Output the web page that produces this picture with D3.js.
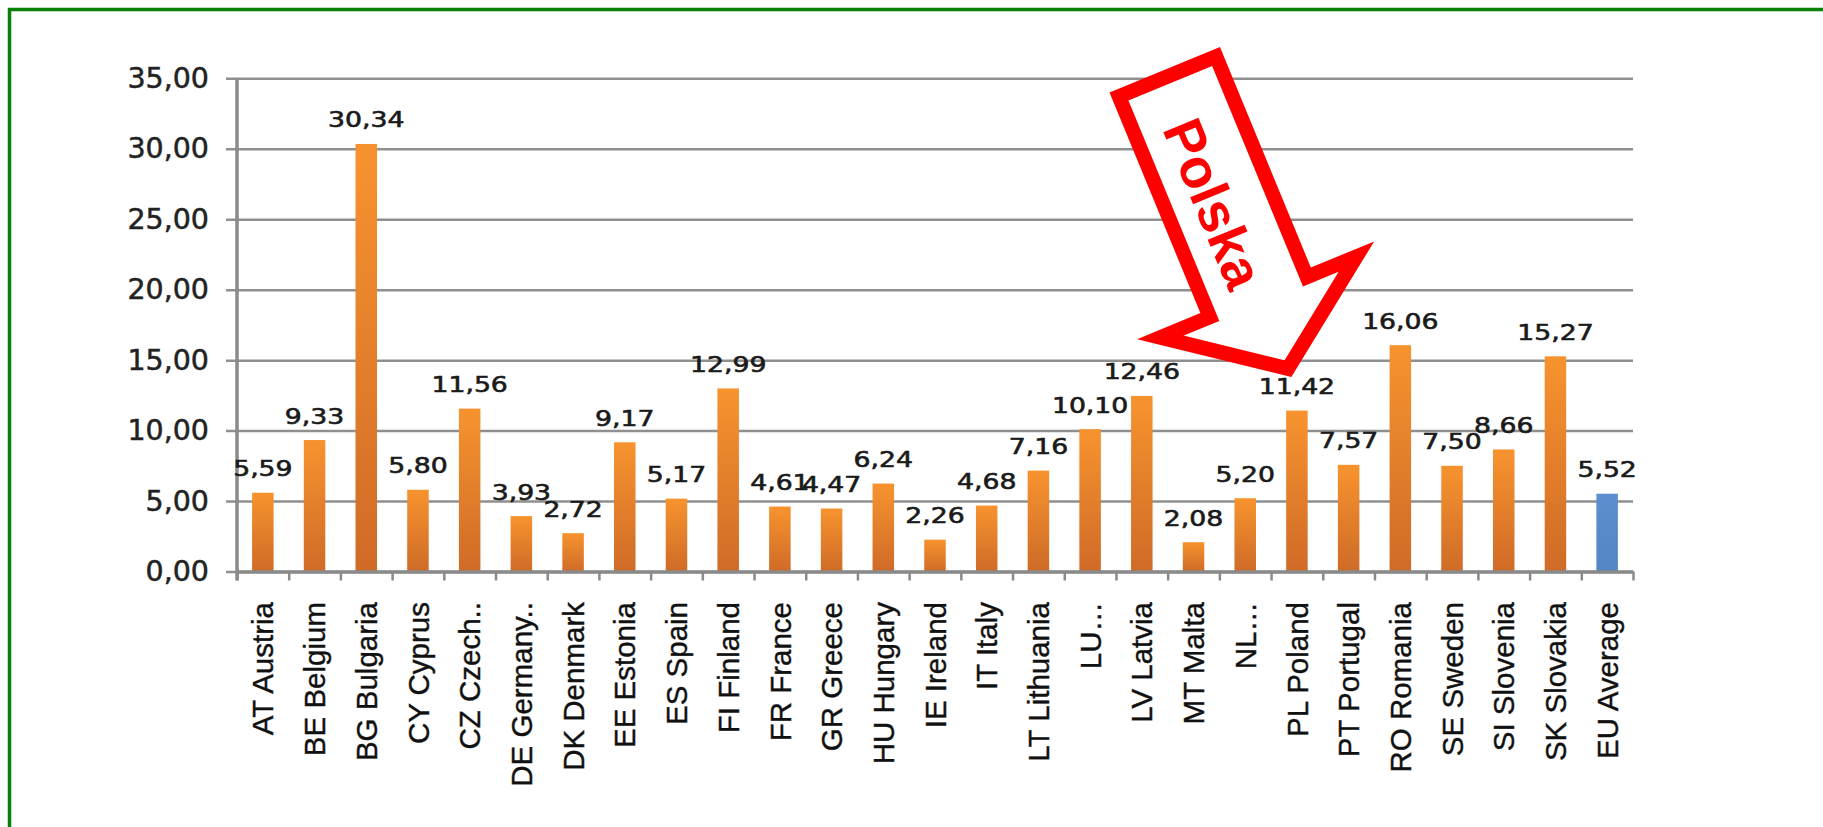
<!DOCTYPE html>
<html>
<head>
<meta charset="utf-8">
<script src="https://cdn.jsdelivr.net/npm/d3@7"></script>
<style>
  body { margin: 0; background: #fff; }
  svg { display: block; }
</style>
</head>
<body>
<script>
// countries and their values
var countries = ["AT Austria", "BE Belgium", "BG Bulgaria", "CY Cyprus", "CZ Czech..",
  "DE Germany..", "DK Denmark", "EE Estonia", "ES Spain", "FI Finland", "FR France",
  "GR Greece", "HU Hungary", "IE Ireland", "IT Italy", "LT Lithuania", "LU…",
  "LV Latvia", "MT Malta", "NL…", "PL Poland", "PT Portugal", "RO Romania",
  "SE Sweden", "SI Slovenia", "SK Slovakia", "EU Average"];
var values = [5.59, 9.33, 30.34, 5.80, 11.56, 3.93, 2.72, 9.17, 5.17, 12.99, 4.61,
  4.47, 6.24, 2.26, 4.68, 7.16, 10.10, 12.46, 2.08, 5.20, 11.42, 7.57, 16.06,
  7.50, 8.66, 15.27, 5.52];
var yTicks = [0, 5, 10, 15, 20, 25, 30, 35];
var highlight = "EU Average";   // the blue one
var arrowLabel = "Polska";

var W = 1823, H = 827;
// careful: "top" is taken by window.top, so plot* names
var plotLeft = 237, plotRight = 1633, plotTop = 78.3, plotBottom = 571.5;

var svg = d3.select("body").append("svg")
  .attr("width", W).attr("height", H);

var defs = svg.append("defs");
function grad(id, c1, c2) { // vertical gradient, light at the top
  var g = defs.append("linearGradient").attr("id", id)
    .attr("x1", 0).attr("y1", 0).attr("x2", 0).attr("y2", 1);
  g.append("stop").attr("offset", "0%").attr("stop-color", c1);
  g.append("stop").attr("offset", "100%").attr("stop-color", c2);
}
grad("orange", "#f7932e", "#cf6b27");
grad("blue", "#5c8fcf", "#5485c4");

// green frame, only top and left are in the picture
svg.append("path")
  .attr("d", "M9.5," + H + "V9.5H" + W)
  .attr("fill", "none").attr("stroke", "#0a7f0a").attr("stroke-width", 3.5);

var comma = d3.formatLocale({decimal: ",", thousands: ".", grouping: [3], currency: ["", ""]});
var fmt = comma.format(".2f");

var x = d3.scaleBand().domain(countries).range([plotLeft, plotRight])
  .paddingInner(0.584).paddingOuter(0.292);
var y = d3.scaleLinear().domain([0, 35]).range([plotBottom, plotTop]);
var edges = d3.scaleLinear().domain([0, countries.length]).range([plotLeft, plotRight]);

// gridlines + y tick labels
var yAxis = svg.append("g").attr("transform", "translate(226,0)")
  .call(d3.axisLeft(y).tickValues(yTicks).tickFormat(fmt)
    .tickSizeInner(-(plotRight - 226)).tickSizeOuter(0).tickPadding(17));
yAxis.select(".domain").remove();
yAxis.selectAll(".tick line").attr("stroke", "#8f8f8f").attr("stroke-width", 2.5);
yAxis.selectAll(".tick text")
  .attr("font-family", "'DejaVu Sans', Verdana, sans-serif")
  .attr("font-size", 28.5).attr("fill", "#222")
  .attr("stroke", "#222").attr("stroke-width", 0.5);

// bars
svg.append("g").selectAll("rect")
  .data(values)
  .join("rect")
  .attr("x", function (d, i) { return x(countries[i]); })
  .attr("y", function (d) { return y(d); })
  .attr("width", x.bandwidth())
  .attr("height", function (d) { return y(0) - y(d); })
  .attr("fill", function (d, i) { return countries[i] === highlight ? "url(#blue)" : "url(#orange)"; });

// x axis with ticks between the categories
var xAxis = svg.append("g").attr("transform", "translate(0," + plotBottom + ")")
  .call(d3.axisBottom(edges).tickValues(d3.range(countries.length + 1))
    .tickFormat("").tickSizeInner(9).tickSizeOuter(0));
xAxis.select(".domain").attr("stroke", "#8a8a8a").attr("stroke-width", 3.5);
xAxis.selectAll(".tick line").attr("stroke", "#8a8a8a").attr("stroke-width", 2.5);

// y axis line
svg.append("line")
  .attr("x1", plotLeft).attr("x2", plotLeft).attr("y1", y(35)).attr("y2", plotBottom + 9)
  .attr("stroke", "#8a8a8a").attr("stroke-width", 3.5);

// category labels, rotated
svg.append("g").selectAll("text")
  .data(countries)
  .join("text")
  .attr("transform", function (d) { return "translate(" + (x(d) + x.bandwidth() / 2) + ",602) rotate(-90)"; })
  .attr("dy", "0.36em")
  .attr("text-anchor", "end")
  .attr("font-family", "'Liberation Sans', Arial, sans-serif")
  .attr("font-size", 29.5).attr("fill", "#111")
  .attr("stroke", "#111").attr("stroke-width", 0.4)
  .text(function (d) { return d; });

// value labels on top of the bars (they look stretched sideways in the original)
svg.append("g").selectAll("text")
  .data(values)
  .join("text")
  .attr("transform", function (d, i) {
    return "translate(" + (x(countries[i]) + x.bandwidth() / 2) + "," + (y(d) - 16.5) + ") scale(1.27,1)";
  })
  .attr("text-anchor", "middle")
  .attr("font-family", "'DejaVu Sans', Verdana, sans-serif")
  .attr("font-size", 21).attr("fill", "#1a1a1a")
  .attr("stroke", "#1a1a1a").attr("stroke-width", 0.6)
  .text(function (d) { return fmt(d); });

// the red "Polska" arrow, drawn along its own axis then turned
var shaftLen = 238.5, headLen = 77.5, shaftHalf = 52.5, headHalf = 106;
var arrowPts = [[0, -shaftHalf], [shaftLen, -shaftHalf], [shaftLen, -headHalf],
  [shaftLen + headLen, 0], [shaftLen, headHalf], [shaftLen, shaftHalf], [0, shaftHalf]];
var arrow = svg.append("g").attr("transform", "translate(1167.5,76.5) rotate(67.6)");
arrow.append("path")
  .attr("d", d3.line()(arrowPts) + "Z")
  .attr("fill", "#fff").attr("stroke", "#ff0000")
  .attr("stroke-width", 14.5).attr("stroke-linejoin", "miter").attr("stroke-miterlimit", 10);
arrow.append("text")
  .attr("x", 135).attr("y", 6)
  .attr("dominant-baseline", "central")
  .attr("text-anchor", "middle")
  .attr("font-family", "'Liberation Sans', Arial, sans-serif")
  .attr("font-weight", "bold").attr("font-size", 55).attr("fill", "#ff0000")
  .text(arrowLabel);
</script>
</body>
</html>
